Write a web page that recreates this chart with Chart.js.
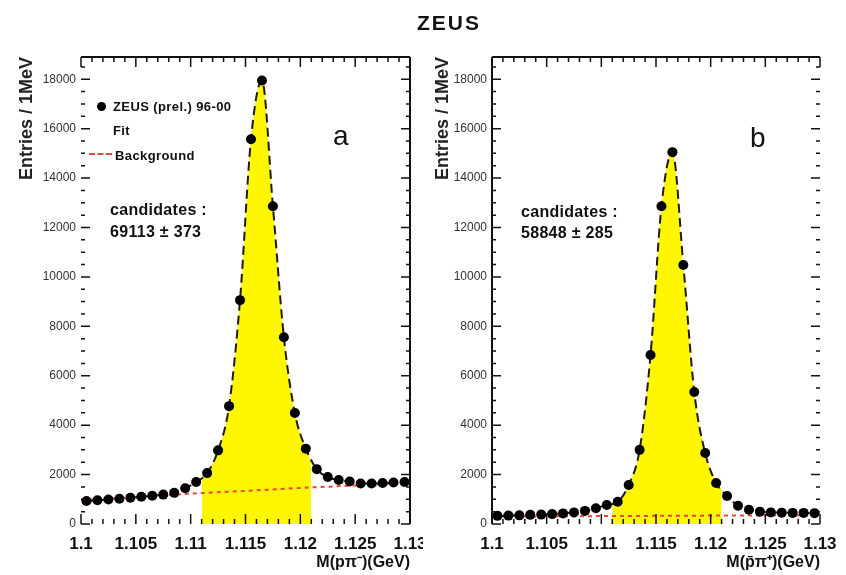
<!DOCTYPE html>
<html lang="en">
<head>
<meta charset="UTF-8">
<title>ZEUS - Lambda mass peaks</title>
<style>
  body { margin: 0; background: #fff; font-family: "Liberation Sans", Arial, sans-serif; color: #111; }
  #page { position: relative; width: 846px; height: 575px; overflow: hidden; }
  canvas { position: absolute; top: 0; }
  #chartA { left: 0; }
  #chartB { left: 423px; }
  .lbl { position: absolute; white-space: nowrap; line-height: 1; }
  .title { left: 449px; top: 12px; transform: translateX(-50%); font-size: 21px; font-weight: bold; letter-spacing: 2px; }
  .panel { font-size: 28px; }
  .cand { font-size: 16px; font-weight: bold; letter-spacing: 0.3px; }
  .leg { font-size: 13px; font-weight: bold; letter-spacing: 0.4px; }
  .dot { position: absolute; width: 9px; height: 9px; border-radius: 50%; background: #000; }
  .dash { position: absolute; width: 23px; border-top: 2px dashed #e8463a; }
</style>
</head>
<body>
<div id="page">
  <canvas id="chartA" width="423" height="575"></canvas>
  <canvas id="chartB" width="423" height="575"></canvas>

  <div class="lbl title">ZEUS</div>

  <!-- legend, panel a -->
  <div class="dot" style="left:97px; top:102px;"></div>
  <div class="lbl leg" style="left:113px; top:100px;">ZEUS (prel.) 96-00</div>
  <div class="lbl leg" style="left:113px; top:124px;">Fit</div>
  <div class="dash" style="left:89px; top:153px;"></div>
  <div class="lbl leg" style="left:115px; top:149px;">Background</div>

  <div class="lbl panel" style="left:333px; top:122px;">a</div>
  <div class="lbl panel" style="left:750px; top:124px;">b</div>

  <div class="lbl cand" style="left:110px; top:202px;">candidates :</div>
  <div class="lbl cand" style="left:110px; top:224px;">69113 ± 373</div>
  <div class="lbl cand" style="left:521px; top:204px;">candidates :</div>
  <div class="lbl cand" style="left:521px; top:225px;">58848 ± 285</div>
</div>

<script src="https://cdn.jsdelivr.net/npm/chart.js"></script>
<script>
// 1 MeV bin centres (GeV)
const massBins = [
  1.1005, 1.1015, 1.1025, 1.1035, 1.1045, 1.1055, 1.1065, 1.1075, 1.1085, 1.1095,
  1.1105, 1.1115, 1.1125, 1.1135, 1.1145, 1.1155, 1.1165, 1.1175, 1.1185, 1.1195,
  1.1205, 1.1215, 1.1225, 1.1235, 1.1245, 1.1255, 1.1265, 1.1275, 1.1285, 1.1295
];

// a: p pi-   b: pbar pi+
const countsA = [
  930, 960, 990, 1020, 1060, 1100, 1140, 1190, 1260, 1450,
  1700, 2060, 2980, 4770, 9060, 15570, 17950, 12860, 7560, 4490,
  3050, 2220, 1900, 1780, 1720, 1640, 1640, 1660, 1680, 1700
];
const countsB = [
  330, 340, 350, 370, 380, 400, 430, 470, 530, 640,
  770, 900, 1580, 3000, 6840, 12860, 15050, 10480, 5340, 2870,
  1660, 1130, 740, 580, 500, 470, 460, 450, 450, 440
];

// background fit, read at these masses
const bgMass = [1.1, 1.105, 1.11, 1.115, 1.12, 1.125, 1.13];
const bgA = [960, 1090, 1230, 1340, 1460, 1560, 1650];
const bgB = [300, 310, 320, 330, 340, 350, 360];

// signal window used for the yield, with fit value at its edges
const windowEdges = [1.111, 1.121];
const edgeFitA = [1900, 2450];
const edgeFitB = [900, 1400];

// labelled ticks
const massTicks = [1.1, 1.105, 1.11, 1.115, 1.12, 1.125, 1.13];
const entryTicks = [0, 2000, 4000, 6000, 8000, 10000, 12000, 14000, 16000, 18000];

const FONT = '"Liberation Sans", Arial, sans-serif';

// ROOT style frame: solid sides plus inward ticks on every side
const frameTicks = {
  id: 'frameTicks',
  afterDatasetsDraw(chart, args, opts) {
    const { ctx, chartArea: a, scales: { x, y } } = chart;
    ctx.save();
    ctx.strokeStyle = '#111';
    ctx.lineWidth = 2;
    ctx.beginPath();
    if (opts.sides.includes('top')) { ctx.moveTo(a.left, a.top); ctx.lineTo(a.right, a.top); }
    if (opts.sides.includes('left')) { ctx.moveTo(a.left, a.top); ctx.lineTo(a.left, a.bottom); }
    if (opts.sides.includes('right')) { ctx.moveTo(a.right, a.top); ctx.lineTo(a.right, a.bottom); }
    ctx.stroke();

    ctx.lineWidth = 1.5;
    ctx.beginPath();
    for (let i = 0; i <= 30; i++) {
      const px = x.getPixelForValue(1.1 + i * 0.001);
      const len = i % 5 === 0 ? 10 : 5;
      ctx.moveTo(px, a.top); ctx.lineTo(px, a.top + len);
      ctx.moveTo(px, a.bottom); ctx.lineTo(px, a.bottom - len);
    }
    for (let v = 0; v <= 18500; v += 500) {
      const py = y.getPixelForValue(v);
      const len = v % 2000 === 0 ? 9 : 4;
      ctx.moveTo(a.left, py); ctx.lineTo(a.left + len, py);
      ctx.moveTo(a.right, py); ctx.lineTo(a.right - len, py);
    }
    ctx.stroke();
    ctx.restore();
  }
};

function makeChart(id, counts, bg, edgeFit, cfg) {
  const pts = massBins.map((m, i) => ({ x: m, y: counts[i] }));
  const bgPts = bgMass.map((m, i) => ({ x: m, y: bg[i] }));
  const windowPts = [{ x: windowEdges[0], y: edgeFit[0] }]
    .concat(pts.filter(p => p.x > windowEdges[0] && p.x < windowEdges[1]))
    .concat([{ x: windowEdges[1], y: edgeFit[1] }]);

  return new Chart(document.getElementById(id), {
    type: 'line',
    data: {
      datasets: [
        {
          label: 'data',
          data: pts,
          showLine: false,
          pointRadius: 5,
          pointBackgroundColor: '#000',
          pointBorderWidth: 0
        },
        {
          label: 'Fit',
          data: pts,
          borderColor: '#1c1c14',
          borderWidth: 2,
          borderDash: [9, 5],
          cubicInterpolationMode: 'monotone',
          pointRadius: 0,
          fill: false
        },
        {
          label: 'Background',
          data: bgPts,
          borderColor: '#e8463a',
          borderWidth: 2,
          borderDash: [4, 4],
          pointRadius: 0,
          fill: false
        },
        {
          label: 'signal',
          data: windowPts,
          borderWidth: 0,
          borderColor: 'rgba(0,0,0,0)',
          backgroundColor: '#fff700',
          cubicInterpolationMode: 'monotone',
          pointRadius: 0,
          fill: 'origin'
        }
      ]
    },
    options: {
      responsive: false,
      animation: false,
      layout: { padding: { left: 0, top: 57, right: cfg.padRight, bottom: 0 } },
      plugins: {
        legend: { display: false },
        tooltip: { enabled: false },
        frameTicks: { sides: cfg.sides }
      },
      scales: {
        x: {
          type: 'linear',
          min: 1.1,
          max: 1.13,
          afterBuildTicks: s => { s.ticks = massTicks.map(v => ({ value: v })); },
          afterFit: s => { s.height = 51; s.paddingLeft = 0; s.paddingRight = 0; },
          grid: { display: false, drawTicks: false },
          border: { display: false },
          ticks: {
            autoSkip: false,
            maxRotation: 0,
            padding: 10,
            color: '#111',
            font: { family: FONT, size: 17, weight: 'bold' },
            callback: v => String(parseFloat(v.toFixed(3)))
          },
          title: {
            display: true,
            text: cfg.xTitle,
            align: 'end',
            color: '#111',
            padding: { top: 0, bottom: 3 },
            font: { family: FONT, size: 16, weight: 'bold' }
          }
        },
        y: {
          min: 0,
          max: 18900,
          afterBuildTicks: s => { s.ticks = entryTicks.map(v => ({ value: v })); },
          afterFit: s => { s.width = cfg.yWidth; },
          grid: { display: false, drawTicks: false },
          border: { display: false },
          ticks: {
            padding: 5,
            color: '#333',
            font: { family: FONT, size: 12 },
            callback: v => String(v)
          },
          title: {
            display: true,
            text: 'Entries / 1MeV',
            align: 'end',
            color: '#222',
            padding: { top: cfg.yTitlePad, bottom: 0 },
            font: { family: FONT, size: 18, weight: 'bold' }
          }
        }
      }
    },
    plugins: [frameTicks]
  });
}

makeChart('chartA', countsA, bgA, edgeFitA, {
  padRight: 13, yWidth: 81, yTitlePad: 16,
  xTitle: 'M(pπ⁻)(GeV)',
  sides: ['top', 'right']
});
makeChart('chartB', countsB, bgB, edgeFitB, {
  padRight: 26, yWidth: 69, yTitlePad: 9,
  xTitle: 'M(p̄π⁺)(GeV)',
  sides: ['top', 'left']
});
</script>
</body>
</html>
